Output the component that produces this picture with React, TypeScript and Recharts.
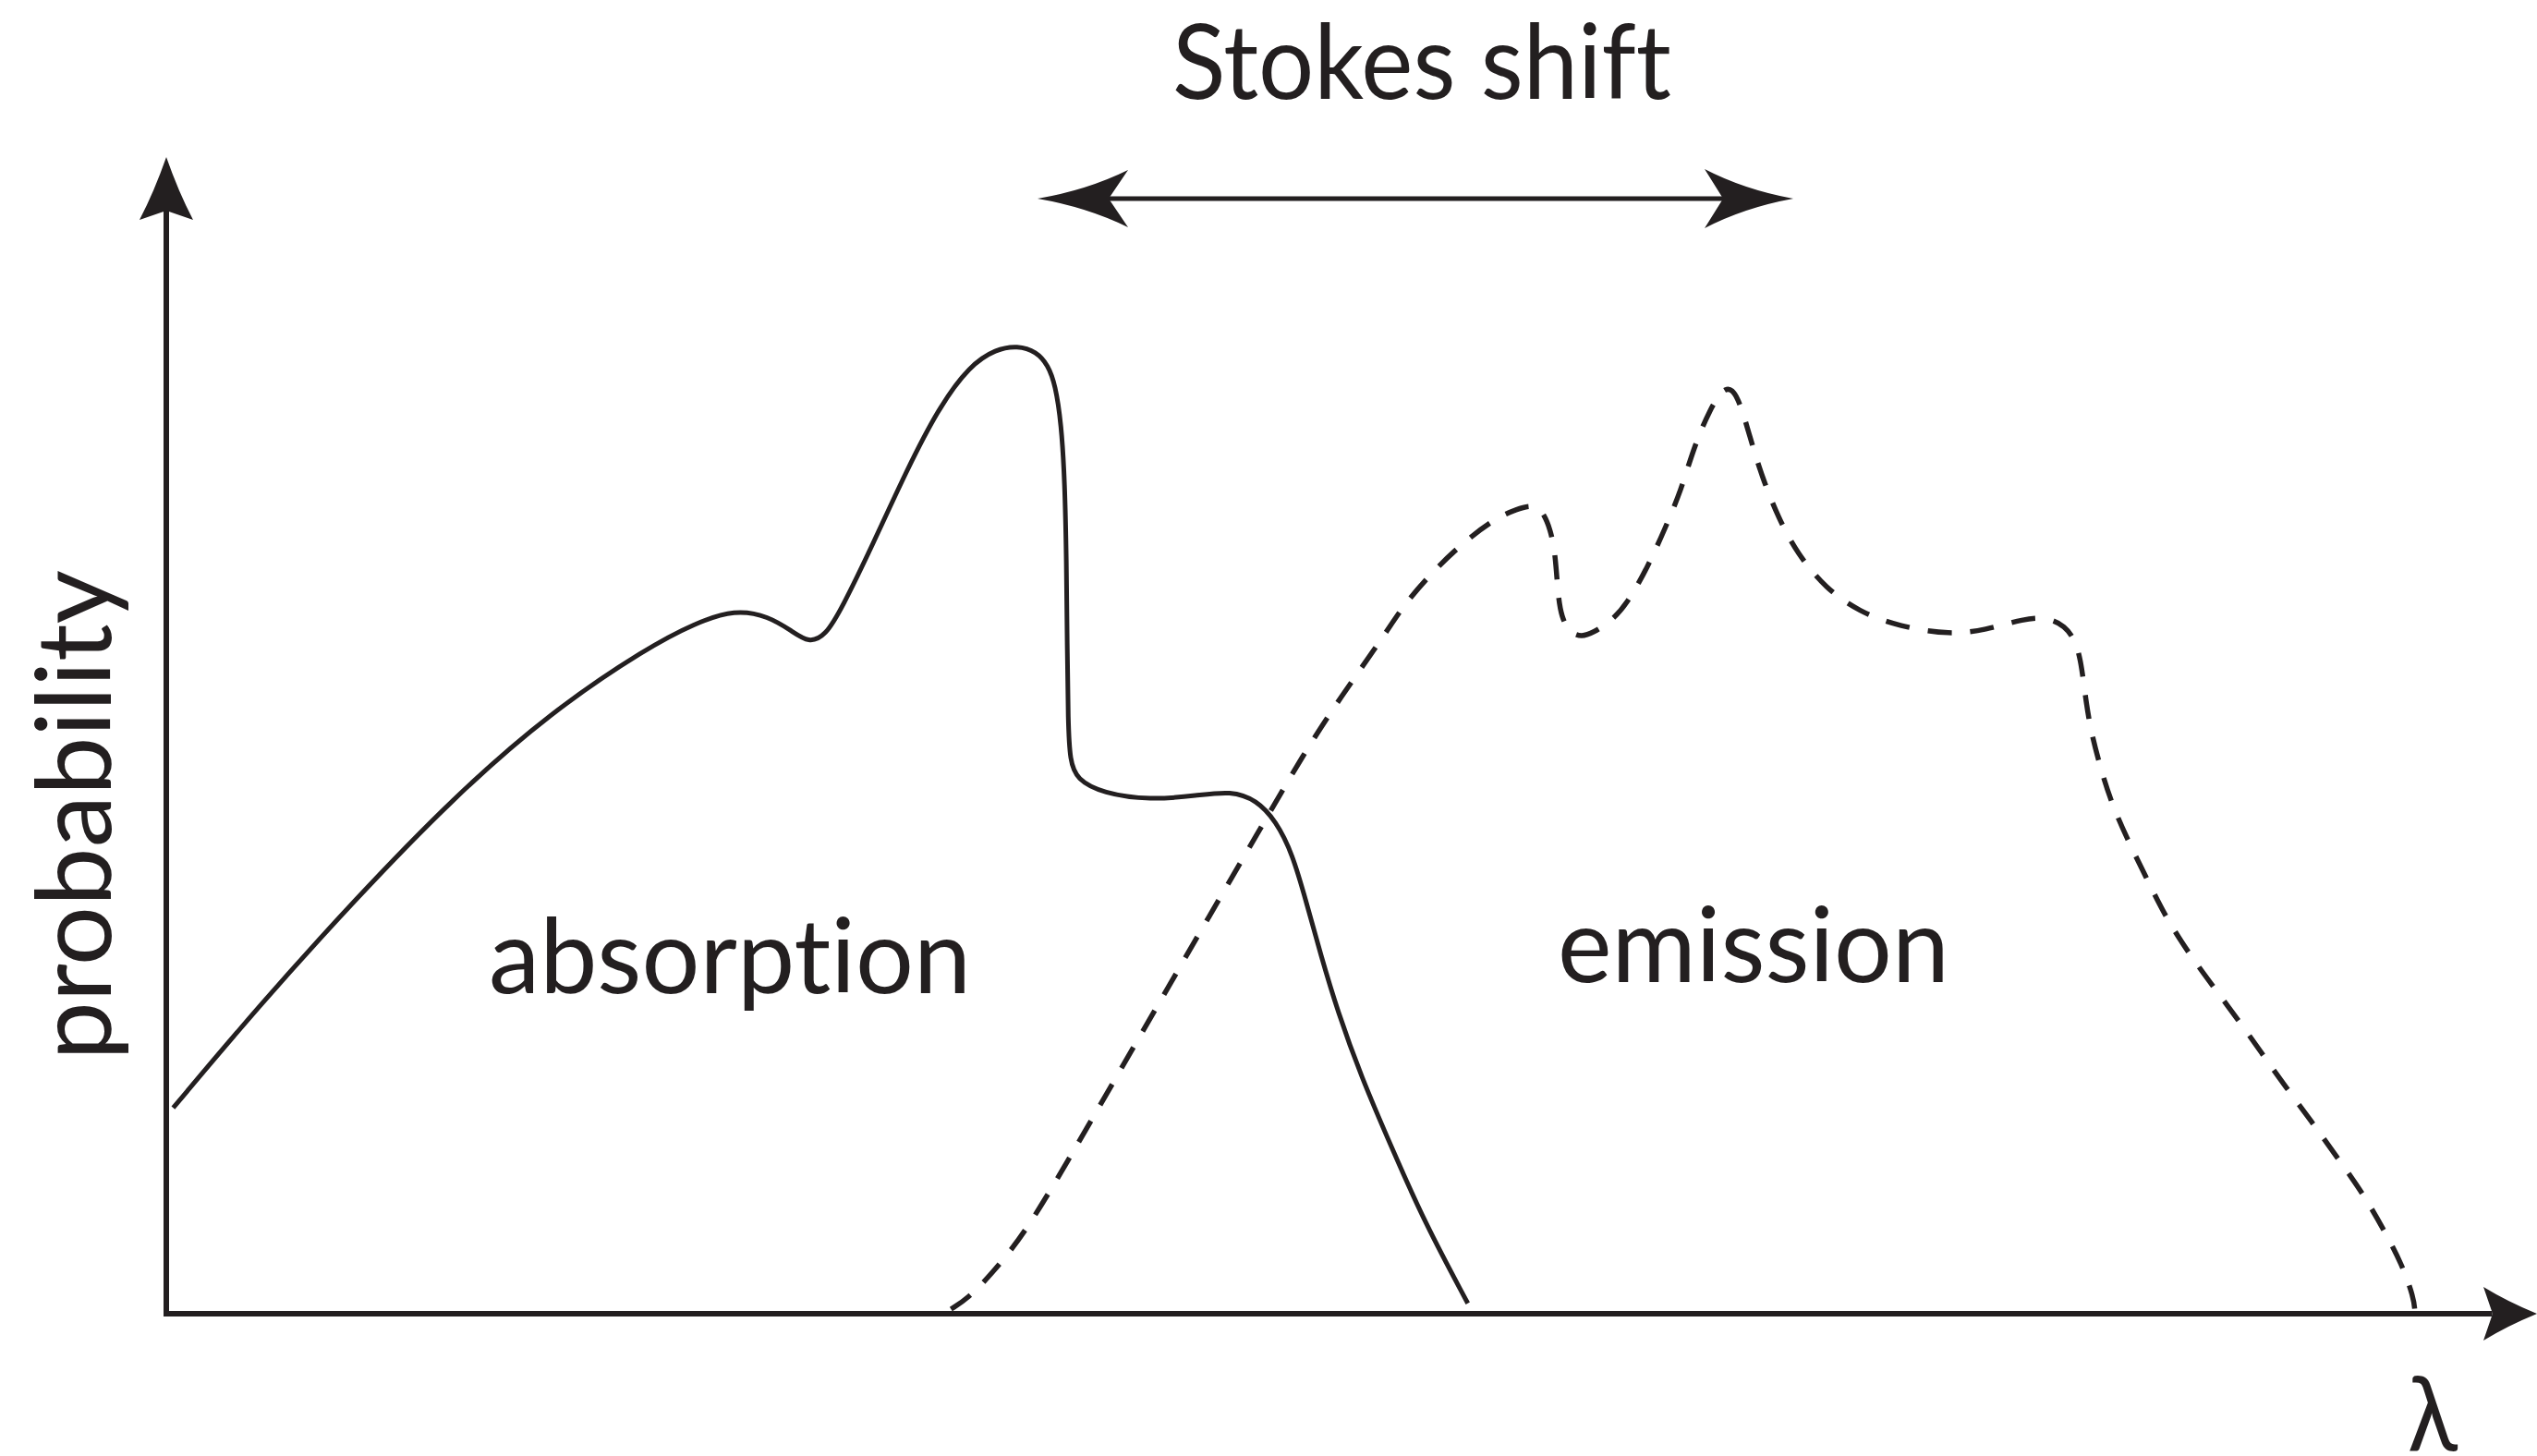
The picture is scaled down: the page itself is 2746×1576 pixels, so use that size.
import React from 'react';
import { LineChart, Line, XAxis, YAxis, ReferenceLine, ReferenceDot } from 'recharts';

// wavelength (arbitrary units, 0..100 along the λ axis) and probability (0..100 up the axis)
const absorptionWavelength = [0.29, 3.9, 8.0, 12.1, 16.2, 20.3, 22.3, 24.0, 25.4, 26.4, 27.1, 27.8, 28.5, 29.8, 31.2, 32.6, 33.9, 35.0, 35.9, 36.7, 37.2, 37.5, 37.75, 37.9, 37.97, 38.0, 38.04, 38.12, 38.4, 39.5, 41.5, 43.5, 44.9, 46.0, 46.8, 47.5, 48.1, 48.7, 49.4, 50.4, 51.7, 53.1, 54.9];
const absorptionProbability = [17.8, 26.6, 35.9, 44.6, 52.0, 57.6, 59.7, 60.9, 60.3, 59.0, 58.0, 58.6, 61.0, 66.5, 72.8, 78.4, 82.0, 83.4, 83.7, 83.2, 82.0, 80.3, 77.0, 72.0, 65.0, 58.0, 51.0, 47.8, 46.2, 45.0, 44.4, 44.8, 45.2, 44.4, 42.6, 39.8, 35.5, 31.0, 26.2, 20.5, 14.3, 7.8, 0.9];

const emissionWavelength = [33.1, 33.8, 34.8, 36.2, 38.0, 40.0, 42.0, 44.0, 46.0, 48.0, 49.5, 51.4, 52.1, 53.3, 54.6, 56.0, 57.0, 57.6, 58.0, 58.4, 58.6, 58.7, 58.85, 59.2, 59.7, 60.2, 60.9, 61.6, 62.5, 63.2, 63.9, 64.4, 65.1, 65.8, 66.3, 66.8, 67.3, 68.0, 68.8, 70.0, 71.4, 73.1, 75.3, 76.7, 78.4, 79.3, 80.1, 80.55, 80.8, 81.05, 81.5, 82.0, 82.7, 83.5, 84.3, 85.3, 86.3, 87.4, 88.4, 89.4, 90.5, 91.5, 92.6, 93.5, 94.3, 94.8, 94.85];
const emissionProbability = [0.4, 1.3, 3.4, 6.9, 13.1, 20.2, 27.3, 34.4, 41.4, 48.5, 53.2, 58.7, 61.0, 63.9, 66.5, 68.7, 69.6, 69.9, 69.6, 67.8, 65.5, 62.2, 60.2, 58.9, 58.5, 58.9, 59.8, 61.3, 64.6, 67.8, 71.2, 74.7, 78.2, 80.4, 79.4, 75.8, 72.4, 68.8, 65.7, 62.7, 60.7, 59.4, 58.7, 59.1, 60.1, 60.2, 59.5, 58.1, 56.1, 51.5, 47.8, 44.4, 41.1, 37.8, 34.4, 31.2, 28.4, 25.4, 22.5, 19.6, 16.6, 13.7, 10.6, 7.4, 4.3, 1.4, 0.2];

// Stokes shift arrow extent (wavelength units) and height
const stokesFrom = 36.75;
const stokesTo = 68.63;
const stokesLevel = 96.4;

const INK = '#231f20';
const FONT = "Lato, 'Open Sans', 'DejaVu Sans', sans-serif";
const FS = 112;

const absorptionData = absorptionWavelength.map((x, i) => ({ x, y: absorptionProbability[i] }));
const emissionData = emissionWavelength.map((x, i) => ({ x, y: emissionProbability[i] }));

type ArrowProps = { cx?: number; cy?: number; angle: number; len: number; half: number; notch: number; bend: number };
function ArrowHead({ cx, cy, angle, len, half, notch, bend }: ArrowProps) {
  if (cx == null || cy == null) return null;
  const d = `M0,0 Q${-len * 0.55},${-half * bend} ${-len},${-half} L${-len + notch},0 L${-len},${half} Q${-len * 0.55},${half * bend} 0,0 Z`;
  return <path d={d} fill={INK} stroke="none" transform={`translate(${cx},${cy}) rotate(${angle})`} />;
}

type TextProps = { cx?: number; cy?: number; text: string; length: number; rotate?: boolean };
function Caption({ cx, cy, text, length, rotate }: TextProps) {
  if (cx == null || cy == null) return null;
  return (
    <text
      x={cx}
      y={cy}
      textAnchor="middle"
      fontFamily={FONT}
      fontSize={FS}
      fill={INK}
      textLength={length}
      lengthAdjust="spacingAndGlyphs"
      style={{ fontVariantLigatures: 'none', fontFeatureSettings: '"liga" 0, "dlig" 0' }}
      transform={rotate ? `rotate(-90, ${cx}, ${cy})` : undefined}
    >
      {text}
    </text>
  );
}

export default function App() {
  return (
    <div style={{ position: 'absolute', left: 0, top: 0, width: 2746, height: 1576, background: '#ffffff' }}>
      <LineChart width={2746} height={1576} margin={{ top: 170, right: 0, bottom: 154, left: 180 }}>
        <XAxis type="number" dataKey="x" domain={[0, 100]} hide allowDataOverflow />
        <YAxis type="number" domain={[0, 100]} hide allowDataOverflow />

        {/* axes */}
        <ReferenceLine segment={[{ x: 0, y: 0 }, { x: 98, y: 0 }]} stroke={INK} strokeWidth={6} strokeLinecap="square" ifOverflow="visible" />
        <ReferenceLine segment={[{ x: 0, y: 0 }, { x: 0, y: 96 }]} stroke={INK} strokeWidth={6} strokeLinecap="square" ifOverflow="visible" />
        <ReferenceDot x={100} y={0} ifOverflow="visible" shape={(p: any) => <ArrowHead cx={p.cx} cy={p.cy} angle={0} len={58} half={29} notch={10} bend={0.45} />} />
        <ReferenceDot x={0} y={100} ifOverflow="visible" shape={(p: any) => <ArrowHead cx={p.cx} cy={p.cy} angle={-90} len={68} half={29} notch={10} bend={0.45} />} />

        {/* Stokes shift arrow */}
        <ReferenceLine segment={[{ x: stokesFrom + 2, y: stokesLevel }, { x: stokesTo - 2, y: stokesLevel }]} stroke={INK} strokeWidth={5} ifOverflow="visible" />
        <ReferenceDot x={stokesFrom} y={stokesLevel} ifOverflow="visible" shape={(p: any) => <ArrowHead cx={p.cx} cy={p.cy} angle={180} len={98} half={31} notch={21} bend={0.3} />} />
        <ReferenceDot x={stokesTo} y={stokesLevel} ifOverflow="visible" shape={(p: any) => <ArrowHead cx={p.cx} cy={p.cy} angle={0} len={96} half={32} notch={20} bend={0.3} />} />

        <Line data={absorptionData} dataKey="y" type="basis" stroke={INK} strokeWidth={5} dot={false} activeDot={false} isAnimationActive={false} />
        <Line data={emissionData} dataKey="y" type="basis" stroke={INK} strokeWidth={5.5} strokeDasharray="26 20" dot={false} activeDot={false} isAnimationActive={false} />

        {/* captions */}
        <ReferenceDot x={52.96} y={105.0} ifOverflow="visible" shape={(p: any) => <Caption cx={p.cx} cy={p.cy} text="Stokes shift" length={540} />} />
        <ReferenceDot x={23.77} y={27.7} ifOverflow="visible" shape={(p: any) => <Caption cx={p.cx} cy={p.cy} text="absorption" length={522} />} />
        <ReferenceDot x={66.95} y={28.7} ifOverflow="visible" shape={(p: any) => <Caption cx={p.cx} cy={p.cy} text="emission" length={424} />} />
        <ReferenceDot x={-2.34} y={43.1} ifOverflow="visible" shape={(p: any) => <Caption cx={p.cx} cy={p.cy} text="probability" length={531} rotate />} />
        <ReferenceDot x={95.6} y={-11.8} ifOverflow="visible" shape={(p: any) => <Caption cx={p.cx} cy={p.cy} text="λ" length={54} />} />
      </LineChart>
    </div>
  );
}
